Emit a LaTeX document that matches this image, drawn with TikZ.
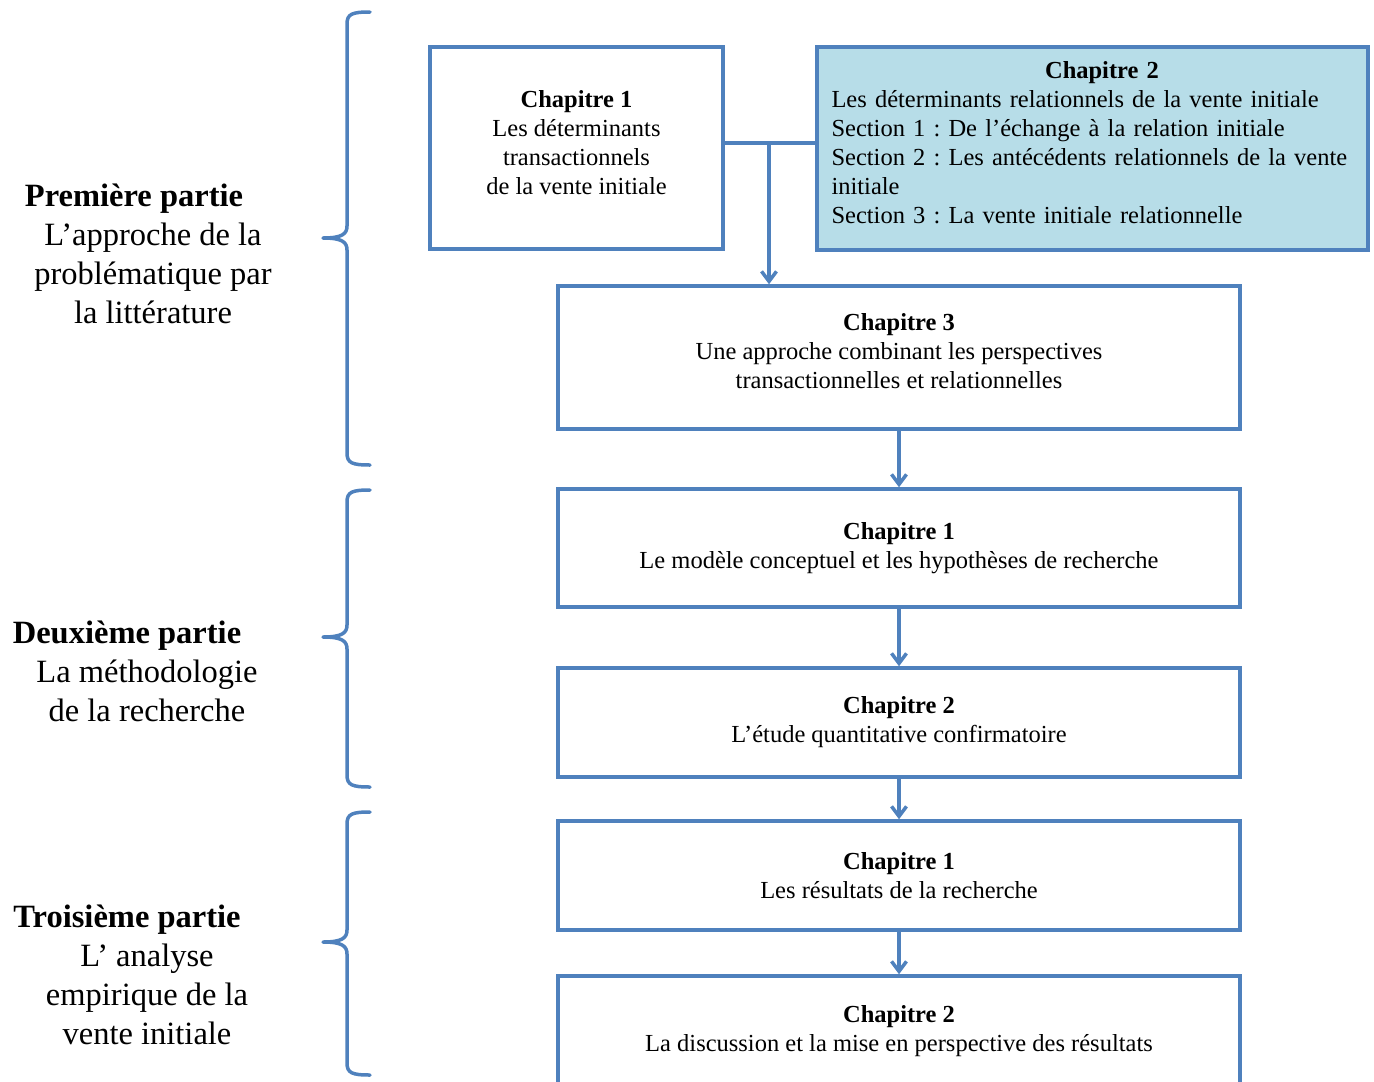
\documentclass[tikz,border=0pt]{standalone}
\usepackage{fontspec}
\setmainfont{Liberation Serif}
\usetikzlibrary{arrows.meta}
\definecolor{planblue}{HTML}{4F81BD}
\definecolor{planfill}{HTML}{B7DDE8}
\frenchspacing
\begin{document}
\begin{tikzpicture}[x=1pt,y=-1pt,line join=round,line cap=round,>={Straight Barb[length=10pt,width=15pt]}]
	\tikzset{chapbox/.style={draw=planblue,line width=3.5pt,line join=miter,align=center,inner sep=0pt,font=\fontsize{24.5}{29}\selectfont},
		partlabel/.style={align=center,font=\fontsize{32.5}{39}\selectfont},
		link/.style={draw=planblue,line width=3.5pt,->},
		brace/.style={draw=planblue,line width=3.5pt}}
	\useasboundingbox (0,0) rectangle (1374,1082);
	% chapitres
	\node[chapbox,minimum width=293,minimum height=202,text depth=12pt] (c1a) at (576.5,148) {\textbf{Chapitre 1}\\Les déterminants\\transactionnels\\de la vente initiale};
	\node[chapbox,fill=planfill,minimum width=551,minimum height=203,text width=522,align=left,text depth=157pt] (c2a) at (1092.5,148.5) {{\centering\hspace*{19pt}\textbf{Chapitre 2}\par}Les déterminants relationnels de la vente initiale\\Section 1 : De l’échange à la relation initiale\\Section 2 : Les antécédents relationnels de la vente\\initiale\\Section 3 : La vente initiale relationnelle};
	\node[chapbox,minimum width=682,minimum height=143,text depth=14pt] (c3a) at (899,357.5) {\textbf{Chapitre 3}\\Une approche combinant les perspectives\\transactionnelles et relationnelles};
	\node[chapbox,minimum width=682,minimum height=118] (d1) at (899,548) {\textbf{Chapitre 1}\\Le modèle conceptuel et les hypothèses de recherche};
	\node[chapbox,minimum width=682,minimum height=109] (d2) at (899,722.5) {\textbf{Chapitre 2}\\L’étude quantitative confirmatoire};
	\node[chapbox,minimum width=682,minimum height=109] (t1) at (899,875.5) {\textbf{Chapitre 1}\\Les résultats de la recherche};
	\node[chapbox,minimum width=682,minimum height=110] (t2) at (899,1031) {\textbf{Chapitre 2}\\La discussion et la mise en perspective des résultats};
	% liens
	\coordinate (split) at (769,143);
	\draw[link,-] (c1a.east |- split) -- (c2a.west |- split);
	\draw[link] (split) -- (c3a.north -| split);
	\draw[link] (c3a.south) -- (d1.north);
	\draw[link] (d1.south) -- (d2.north);
	\draw[link] (d2.south) -- (t1.north);
	\draw[link] (t1.south) -- (t2.north);
	% parties
	\foreach \t/\m/\b in {12/238/465,490/637/787,812/942/1075}
	\draw[brace] (370,\t) .. controls (352,\t) and (347,\t+2) .. (347,\t+12) -- (347,\m-12) .. controls (347,\m-4) and (342,\m) .. (323,\m) .. controls (342,\m) and (347,\m+4) .. (347,\m+12) -- (347,\b-12) .. controls (347,\b-2) and (352,\b) .. (370,\b);
	\node[partlabel] (part1) at (153,254) {\textbf{Première partie}\hspace*{38pt}\\L’approche de la\\problématique par\\la littérature};
	\node[partlabel] (part2) at (147,671) {\textbf{Deuxième partie}\hspace*{40pt}\\La méthodologie\\de la recherche};
	\node[partlabel] (part3) at (147,975) {\textbf{Troisième partie}\hspace*{40pt}\\L’ analyse\\empirique de la\\vente initiale};
\end{tikzpicture}
\end{document}
